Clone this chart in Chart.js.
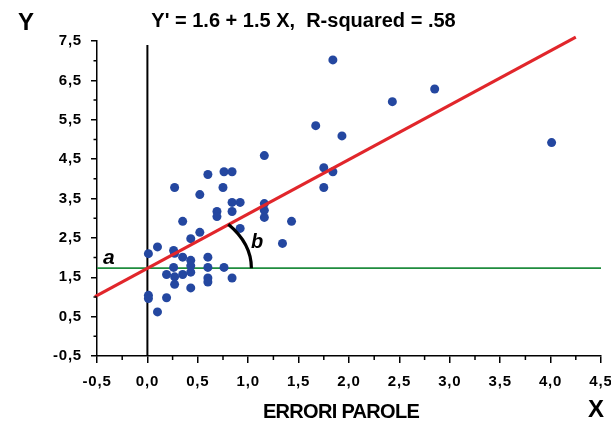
<!DOCTYPE html>
<html>
<head>
<meta charset="utf-8">
<script src="https://cdn.jsdelivr.net/npm/chart.js@4.4.0/dist/chart.umd.min.js"></script>
<style>
    html, body { margin: 0; padding: 0; background: #fff; }
    #wrap { width: 611px; height: 421px; }
</style>
</head>
<body>
<div id="wrap"><canvas id="chart" width="611" height="421"></canvas></div>
<script>
// punti osservati (errori parole vs punteggio)
const errX = [0.01, 0.10, 0.26, 0.27, 0.35, 0.43, 0.43, 0.60, 0.26, 0.43,
              0.60, 0.76, 0.19, 0.27, 0.35, 0.43, 0.60, 0.60, 0.84, 0.27,
              0.43, 0.01, 0.01, 0.19, 0.10, 0.35, 0.52, 0.92, 0.27, 0.52,
              0.60, 0.76, 0.84, 0.75, 0.84, 0.92, 0.84, 0.69, 0.69, 1.16,
              1.16, 1.16, 1.16, 1.43, 1.34, 1.75, 1.84, 1.75, 1.67, 1.93,
              1.84, 2.43, 2.85, 4.01];
const scoreY = [2.10, 2.27, 2.18, 2.11, 2.01, 2.48, 1.93, 2.01, 1.75, 1.79,
                1.75, 1.75, 1.57, 1.51, 1.57, 1.63, 1.48, 1.38, 1.48, 1.32,
                1.23, 1.04, 0.96, 0.98, 0.62, 2.92, 2.64, 2.74, 3.78, 3.60,
                4.11, 4.18, 4.18, 3.78, 3.40, 3.40, 3.17, 3.17, 3.04, 3.37,
                3.20, 3.02, 4.59, 2.92, 2.36, 4.28, 4.18, 3.78, 5.35, 5.09,
                7.02, 5.96, 6.28, 4.92];

// retta di regressione
const fitX = [-0.52, 4.25];
const fitY = [1.01, 7.6];

// linea orizzontale (media) e asse verticale in x = 0
const meanX = [-0.5, 4.5];
const meanY = [1.73, 1.73];
const zeroX = [0, 0];
const zeroY = [-0.5, 7.4];

const xMin = -0.5, xMax = 4.5, xStep = 0.5;
const yMin = -0.5, yMax = 7.5, yStep = 1;

const FONT = '"Liberation Sans", Arial, sans-serif';
const fmt = v => v.toFixed(1).replace('.', ',');
const pairs = (xs, ys) => xs.map((v, i) => ({ x: v, y: ys[i] }));

// testi e segni extra
const extras = {
    id: 'extras',
    beforeDraw(chart) {
        chart.ctx.letterSpacing = '0.8px';
    },
    afterDraw(chart) {
        const { ctx, scales: { x, y } } = chart;
        ctx.save();
        ctx.letterSpacing = '0px';

        // tacche secondarie
        ctx.strokeStyle = '#000';
        ctx.lineWidth = 1.5;
        ctx.beginPath();
        for (let v = xMin + xStep / 2; v < xMax; v += xStep) {
            const px = x.getPixelForValue(v);
            ctx.moveTo(px, y.bottom);
            ctx.lineTo(px, y.bottom + 4);
        }
        for (let v = yMin + yStep / 2; v < yMax; v += yStep) {
            const py = y.getPixelForValue(v);
            ctx.moveTo(x.left, py);
            ctx.lineTo(x.left - 3.5, py);
        }
        ctx.stroke();

        // arco dell'angolo b
        const cx = x.getPixelForValue(0);
        const cy = y.getPixelForValue(meanY[0]);
        ctx.lineWidth = 3.2;
        ctx.beginPath();
        ctx.ellipse(cx, cy, 104, 70, 0, -0.68, 0);
        ctx.stroke();

        ctx.fillStyle = '#000';
        ctx.textBaseline = 'alphabetic';

        ctx.textAlign = 'center';
        ctx.font = 'bold 20px ' + FONT;
        ctx.fillText("Y' = 1.6 + 1.5 X,  R-squared = .58", 303.5, 27);

        ctx.textAlign = 'left';
        ctx.font = 'bold 24px ' + FONT;
        ctx.fillText('Y', 18, 30);
        ctx.fillText('X', 588, 417);

        ctx.textAlign = 'center';
        ctx.letterSpacing = '-0.7px';
        ctx.font = 'bold 20px ' + FONT;
        ctx.fillText('ERRORI PAROLE', 341, 418);
        ctx.letterSpacing = '0px';

        ctx.textAlign = 'left';
        ctx.font = 'italic bold 21px ' + FONT;
        ctx.fillText('a', 103, 264);
        ctx.font = 'italic bold 20px ' + FONT;
        ctx.fillText('b', 251, 248);

        ctx.restore();
    }
};

const ctx = document.getElementById('chart').getContext('2d');
new Chart(ctx, {
    type: 'scatter',
    data: {
        datasets: [
            {
                type: 'line',
                data: pairs(fitX, fitY),
                borderColor: '#e1262b',
                borderWidth: 3.2,
                pointRadius: 0,
                fill: false,
                clip: false
            },
            {
                data: pairs(errX, scoreY),
                backgroundColor: '#2447a0',
                borderColor: '#2447a0',
                borderWidth: 0,
                pointRadius: 4.5
            },
            {
                type: 'line',
                data: pairs(meanX, meanY),
                borderColor: '#1f8c3e',
                borderWidth: 1.8,
                pointRadius: 0,
                fill: false
            },
            {
                type: 'line',
                data: pairs(zeroX, zeroY),
                borderColor: '#000',
                borderWidth: 2,
                pointRadius: 0,
                fill: false
            }
        ]
    },
    options: {
        responsive: false,
        animation: false,
        devicePixelRatio: 1,
        layout: { padding: { left: 0, right: 10, top: 41, bottom: 0 } },
        plugins: {
            legend: { display: false },
            tooltip: { enabled: false },
            title: { display: false }
        },
        scales: {
            x: {
                type: 'linear',
                min: xMin,
                max: xMax,
                afterFit: s => { s.height = 65; s.paddingLeft = 0; s.paddingRight = 0; },
                ticks: {
                    stepSize: xStep,
                    maxRotation: 0,
                    autoSkip: false,
                    padding: 10,
                    color: '#000',
                    font: { family: FONT, size: 15, weight: 'bold' },
                    callback: v => fmt(v)
                },
                grid: { drawOnChartArea: false, drawTicks: true, tickLength: 7, color: '#000', lineWidth: 1.5 },
                border: { display: true, color: '#000', width: 1.5 }
            },
            y: {
                type: 'linear',
                min: yMin,
                max: yMax,
                afterFit: s => { s.width = 97; s.paddingTop = 0; s.paddingBottom = 0; },
                ticks: {
                    stepSize: yStep,
                    autoSkip: false,
                    padding: 9,
                    color: '#000',
                    font: { family: FONT, size: 15, weight: 'bold' },
                    callback: v => fmt(v)
                },
                grid: { drawOnChartArea: false, drawTicks: true, tickLength: 6, color: '#000', lineWidth: 1.5 },
                border: { display: true, color: '#000', width: 1.5 }
            }
        }
    },
    plugins: [extras]
});
</script>
</body>
</html>
